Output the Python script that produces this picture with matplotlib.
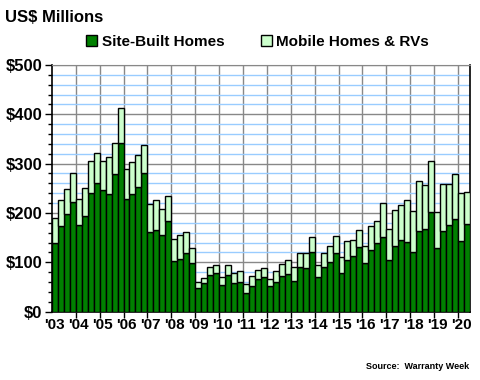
import numpy as np
import matplotlib
matplotlib.use('Agg')
import matplotlib.pyplot as plt
from matplotlib.patches import Patch
from matplotlib.ticker import MultipleLocator

# quarterly warranty claims, 2003 Q1 .. 2020 Q2 (US$ millions)
site_built = [140, 173, 197, 222, 175, 193, 240, 260, 246, 238, 278, 341,
              228, 238, 252, 280, 161, 165, 155, 183, 102, 106, 118, 98,
              47, 57, 74, 78, 53, 74, 57, 61, 37, 51, 66, 71,
              51, 61, 72, 76, 63, 90, 88, 120, 70, 90, 100, 118,
              78, 104, 112, 130, 98, 124, 139, 151, 104, 134, 145, 141,
              120, 163, 167, 201, 128, 163, 175, 187, 143, 177]
totals = [189, 226, 248, 282, 228, 250, 305, 321, 305, 313, 341, 412,
          290, 303, 317, 337, 219, 226, 207, 234, 148, 155, 161, 128,
          61, 68, 90, 94, 70, 94, 78, 82, 55, 72, 84, 88,
          67, 82, 96, 104, 91, 118, 118, 151, 94, 118, 132, 153,
          110, 143, 145, 165, 134, 173, 183, 220, 167, 205, 216, 226,
          203, 264, 256, 305, 201, 258, 258, 278, 240, 242]
mobile = [t - s for t, s in zip(totals, site_built)]
year_labels = ["'03", "'04", "'05", "'06", "'07", "'08", "'09", "'10", "'11",
               "'12", "'13", "'14", "'15", "'16", "'17", "'18", "'19", "'20"]

DARK = '#008000'
LIGHT = '#CCFFCC'

plt.rcParams['font.family'] = ['Liberation Sans', 'DejaVu Sans']

fig = plt.figure(figsize=(4.8, 3.8), dpi=100)
ax = fig.add_axes([0.108, 0.18, 0.871, 0.649])

x = np.arange(len(site_built))
ax.bar(x, site_built, width=1.0, color=DARK, edgecolor='black', linewidth=1.0, zorder=3)
ax.bar(x, mobile, width=1.0, bottom=site_built, color=LIGHT, edgecolor='black',
       linewidth=1.0, zorder=3)

ax.set_xlim(-0.5, len(x) - 0.5)
ax.set_ylim(0, 500)

# grid: light blue every $20, grey every $100, grey at year boundaries
ax.yaxis.set_major_locator(MultipleLocator(100))
ax.yaxis.set_minor_locator(MultipleLocator(20))
ax.grid(axis='y', which='minor', color='#99CCFF', linewidth=1.0, zorder=0)
ax.grid(axis='y', which='major', color='#888888', linewidth=1.0, zorder=1)
bounds = np.arange(4, len(x), 4) - 0.5
for b in bounds:
    ax.axvline(b, color='#888888', linewidth=1.0, zorder=1)

ax.set_yticks(range(0, 501, 100))
ax.set_yticklabels(['$%d' % v for v in range(0, 501, 100)], fontsize=12, fontweight='bold')
ax.tick_params(axis='y', which='major', length=5, width=1, direction='out', pad=2)
ax.tick_params(axis='y', which='minor', length=3, width=1, direction='out')

# year boundary ticks, labels on Q1 bars
ax.set_xticks(bounds)
ax.tick_params(axis='x', which='major', length=4, width=1, direction='out', labelbottom=False)
for i, lab in enumerate(year_labels):
    ax.text(i * 4, -13, lab, ha='center', va='top', fontsize=11, fontweight='bold')

for side in ['left', 'bottom', 'right']:
    ax.spines[side].set_color('black')
    ax.spines[side].set_linewidth(1.2)
ax.spines['top'].set_color('#888888')

fig.text(0.01, 0.955, 'US$ Millions', fontsize=12, fontweight='bold', va='center')

handles = [Patch(facecolor=DARK, edgecolor='black', label='Site-Built Homes'),
           Patch(facecolor=LIGHT, edgecolor='black', label='Mobile Homes & RVs')]
fig.legend(handles=handles, loc='center', bbox_to_anchor=(0.537, 0.889), ncol=2,
           frameon=False, handlelength=0.7, handleheight=0.7, handletextpad=0.3,
           columnspacing=2.4, prop={'size': 11, 'weight': 'bold'})

fig.text(0.978, 0.035, 'Source:  Warranty Week', fontsize=6.5, fontweight='bold',
         ha='right', va='center')

fig.savefig('out.png', dpi=100)
